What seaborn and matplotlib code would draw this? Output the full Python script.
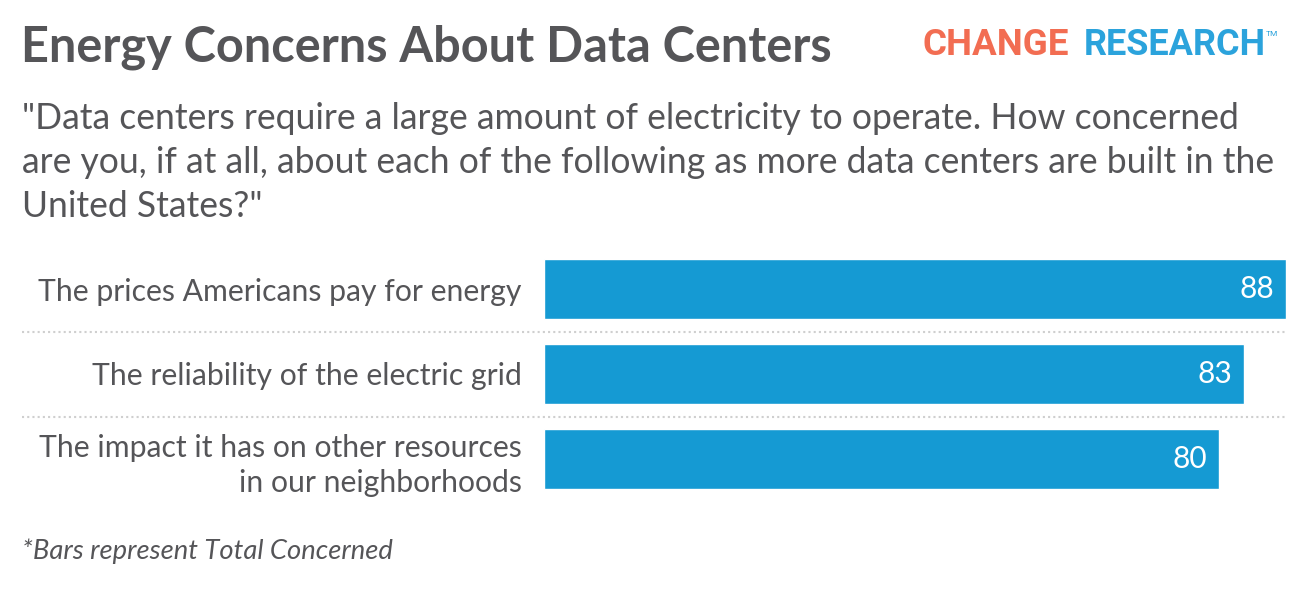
import matplotlib
matplotlib.use("Agg")
import matplotlib.pyplot as plt
import seaborn as sns
import pandas as pd

categories = [
    "The prices Americans pay for energy",
    "The reliability of the electric grid",
    "The impact it has on other resources\nin our neighborhoods",
]
values = [88, 83, 80]

title = "Energy Concerns About Data Centers"
subtitle = ('"Data centers require a large amount of electricity to operate. How concerned\n'
            'are you, if at all, about each of the following as more data centers are built in the\n'
            'United States?"')
footnote = "*Bars represent Total Concerned"

BAR = "#159AD3"
GREY = "#555558"
W, H = 1308, 602

sns.set_theme(style="white")
plt.rcParams["font.family"] = ["Lato", "DejaVu Sans"]

df = pd.DataFrame({"item": categories, "value": values})

fig = plt.figure(figsize=(W / 100, H / 100), dpi=100)
fig.patch.set_facecolor("white")
ax = fig.add_axes([544 / W, 1 - 501.5 / H, 742 / W, 255 / H])
sns.barplot(data=df, y="item", x="value", orient="h", color=BAR, width=0.706,
            saturation=1, ax=ax)
ax.set_xlim(0, 88)
ax.set_ylim(2.5, -0.5)
ax.set_xlabel("")
ax.set_ylabel("")
ax.set_xticks([])
for s in ax.spines.values():
    s.set_visible(False)
ax.tick_params(axis="y", length=0, pad=16, labelsize=21.7, labelcolor=GREY)
for lbl in ax.get_yticklabels():
    lbl.set_linespacing(1.32)

for i, v in enumerate(values):
    ax.annotate(f"{v}", xy=(v, i), xytext=(-8.5, 0), textcoords="offset points",
                ha="right", va="center", color="white", fontsize=21.5)

xmin_frac = (22 - 544) / 742
for yy in [0.5, 1.5]:
    ax.axhline(yy, xmin=xmin_frac, xmax=1, color="#cfcfcf", lw=1.5,
               linestyle=(0, (1, 1.5)), clip_on=False)

fig.text(21 / W, 1 - 47 / H, title, fontsize=35, fontweight="bold", color=GREY,
         ha="left", va="center")
fig.text(22 / W, 1 - 102 / H, subtitle, fontsize=25.6, color=GREY, ha="left",
         va="top", linespacing=1.40)
fig.text(22 / W, 1 - 551 / H, footnote, fontsize=19.7, style="italic", color=GREY,
         ha="left", va="center")

# logo
fig.text(922 / W, 1 - 45 / H, "CHANGE", fontsize=26.5, fontweight="bold", color="#F26D52",
         ha="left", va="center", family=["Roboto", "DejaVu Sans"])
fig.text(1084 / W, 1 - 45 / H, "RESEARCH", fontsize=26, fontweight="bold", color="#2BA3DC",
         ha="left", va="center", family=["Roboto", "DejaVu Sans"])
fig.text(1266 / W, 1 - 34 / H, "TM", fontsize=6, color="#2BA3DC", ha="left", va="center",
         family=["Roboto", "DejaVu Sans"])

fig.savefig("out.png", dpi=100, facecolor="white")
